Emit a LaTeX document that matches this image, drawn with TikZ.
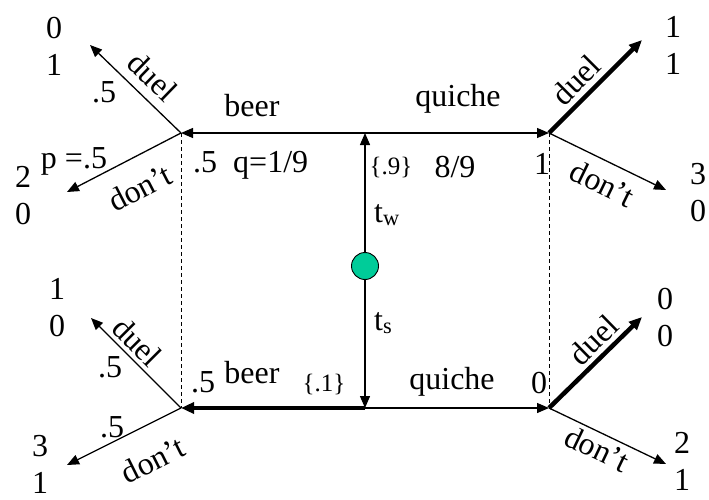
\documentclass[tikz,border=0pt]{standalone}
\usepackage{fontspec}
\setmainfont{Liberation Serif}
\usetikzlibrary{arrows.meta, positioning}
\definecolor{naturefill}{RGB}{0, 204, 153}
\tikzstyle{move}    = [-{Triangle[length=12pt, width=10pt]}, line width=1.3pt]
\tikzstyle{eqmove}  = [-{Triangle[length=13pt, width=11pt]}, line width=4.5pt]
\tikzstyle{infoset} = [dash pattern=on 4pt off 3pt, line width=1pt]
\tikzstyle{chance}  = [circle, draw=black, fill=naturefill, minimum size=27pt,
                       inner sep=0pt, line width=0.9pt]
\tikzstyle{payoff}  = [align=center, inner sep=0pt, font=\fontsize{32}{37}\selectfont]
\tikzstyle{lbl}     = [inner sep=0pt, anchor=base, font=\fontsize{32}{36}\selectfont]
\tikzstyle{belief}  = [inner sep=0pt, anchor=base, font=\fontsize{25}{28}\selectfont]
\tikzstyle{act}     = [inner sep=0pt, sloped, font=\fontsize{32}{36}\selectfont]

\begin{document}
\begin{tikzpicture}[x=1pt, y=-1pt]
  \useasboundingbox (0,0) rectangle (709,500);

  % nature and the two types
  \node (nature) [chance] at (365,266) {};
  \coordinate (tw) at (365,133);
  \coordinate (ts) at (365,408);

  % the sender's decision points
  \coordinate (wb) at (181,133);
  \coordinate (wq) at (549,133);
  \coordinate (sb) at (181,408);
  \coordinate (sq) at (549,408);

  % ends of the receiver's moves
  \coordinate (wbd) at (90,45);
  \coordinate (wbn) at (67,192);
  \coordinate (sbd) at (91,318);
  \coordinate (sbn) at (67,465);
  \coordinate (wqd) at (642,40);
  \coordinate (wqn) at (666,190);
  \coordinate (sqd) at (642,317);
  \coordinate (sqn) at (666,464);

  \draw [move] (nature) -- (tw);
  \draw [move] (nature) -- (ts);
  \draw [move] (tw) -- (wb);
  \draw [move] (tw) -- (wq);
  \draw [eqmove] (ts) -- (sb);
  \draw [move] (ts) -- (sq);

  \draw [infoset] (wb) -- (sb);
  \draw [infoset] (wq) -- (sq);

  \draw [move] (wb) -- node [act, pos=0.47, above=9pt] (wbdl) {duel} (wbd);
  \draw [move] (wb) -- node [act, pos=0.48, below=18pt] (wbnl) {don't} (wbn);
  \draw [move] (sb) -- node [act, pos=0.61, above=4pt] (sbdl) {duel} (sbd);
  \draw [move] (sb) -- node [act, pos=0.38, below=22pt] (sbnl) {don't} (sbn);
  \draw [eqmove] (wq) -- node [act, pos=0.43, above=5pt] (wqdl) {duel} (wqd);
  \draw [move] (wq) -- node [act, pos=0.54, below=10pt] (wqnl) {don't} (wqn);
  \draw [eqmove] (sq) -- node [act, pos=0.61, above=4pt] (sqdl) {duel} (sqd);
  \draw [move] (sq) -- node [act, pos=0.47, below=4pt] (sqnl) {don't} (sqn);

  % payoffs
  \node (pwbd) [payoff] at (54,46)  {0\\1};
  \node (pwbn) [payoff] at (23,196) {2\\0};
  \node (psbd) [payoff] at (57,308) {1\\0};
  \node (psbn) [payoff] at (40,464) {3\\1};
  \node (pwqd) [payoff] at (673,45) {1\\1};
  \node (pwqn) [payoff] at (698,193) {3\\0};
  \node (psqd) [payoff] at (665,318) {0\\0};
  \node (psqn) [payoff] at (682,461) {2\\1};

  % moves and beliefs
  \node (beerw)   [lbl] at (252,117) {beer};
  \node (quichew) [lbl] at (458,107) {quiche};
  \node (beers)   [lbl] at (252,383) {beer};
  \node (quiches) [lbl] at (452,389) {quiche};
  \node (qbelief) [lbl, anchor=base west] at (193,172) {.5\hspace{16pt}q=1/9};
  \node (qrest)   [lbl] at (455,177) {8/9};
  \node (qone)    [lbl] at (542,174) {1};
  \node (qzero)   [lbl] at (539,393) {0};
  \node (pbeer)   [lbl] at (203,392) {.5};
  \node (prw)     [belief] at (391,174) {\{.9\}};
  \node (prs)     [belief] at (324,391) {\{.1\}};
  \node (typew)   [lbl, anchor=base west] at (374,222) {t\textsubscript{w}};
  \node (types)   [lbl, anchor=base west] at (374,330) {t\textsubscript{s}};
  \node (pdef)    [lbl] at (74,168)  {p =.5};
  \node (pwduel)  [lbl] at (104,103) {.5};
  \node (psduel)  [lbl] at (110,377) {.5};
  \node (psdont)  [lbl] at (112,437) {.5};
\end{tikzpicture}
\end{document}
